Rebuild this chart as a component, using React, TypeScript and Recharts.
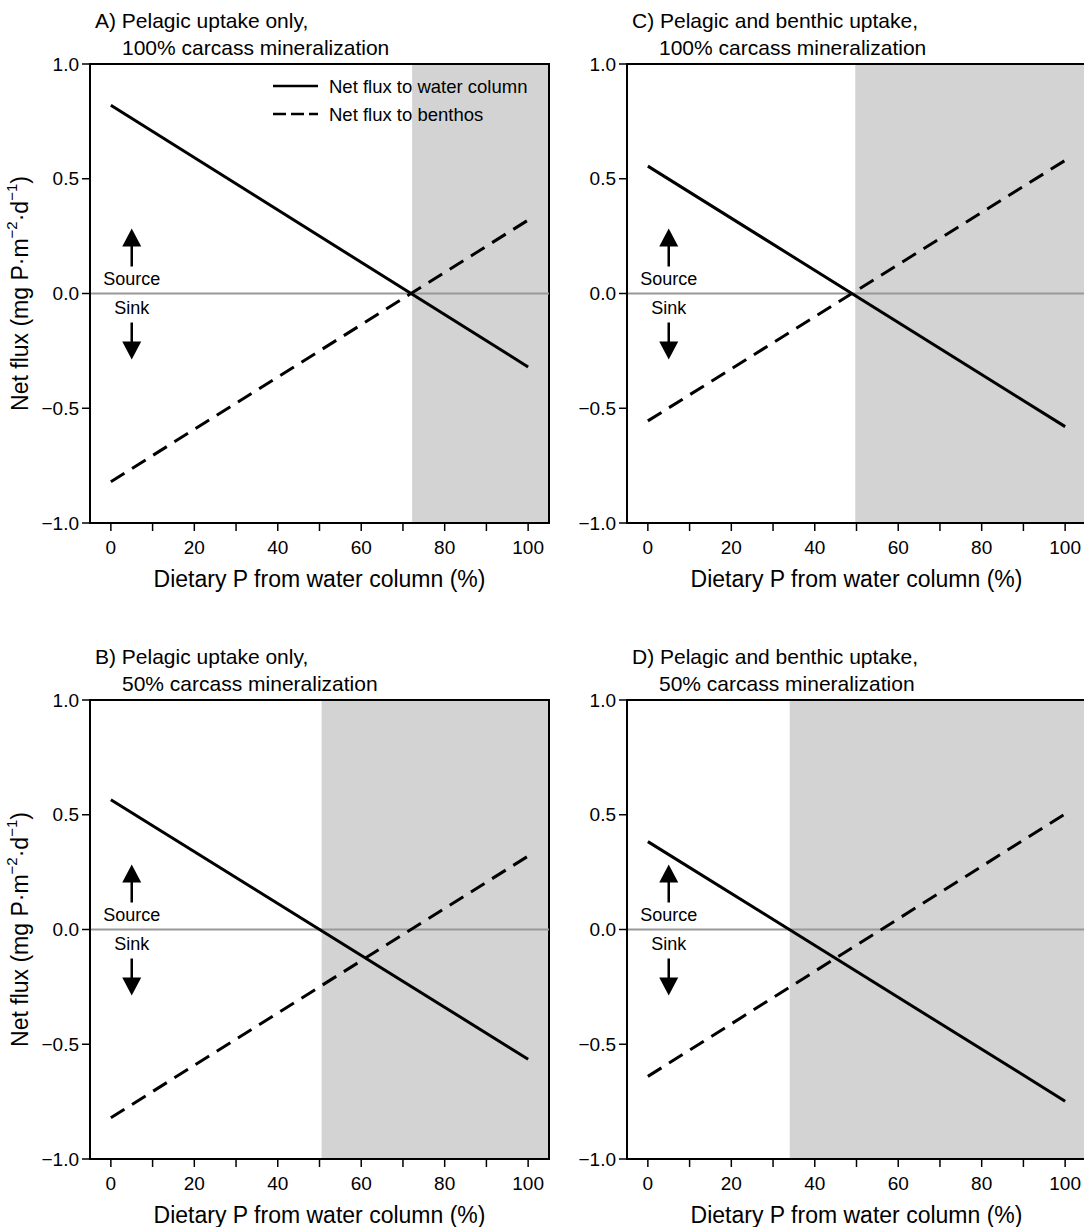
import React from 'react';
import { LineChart, Line, XAxis, YAxis, ReferenceArea, ReferenceLine, ReferenceDot, Legend } from 'recharts';

// ---- data ----
const dietaryPct = [0, 100];

const waterA = [0.82, -0.32];
const benthosA = [-0.82, 0.32];
const shadeA = 72.2;

const waterB = [0.565, -0.565];
const benthosB = [-0.82, 0.32];
const shadeB = 50.5;

const waterC = [0.555, -0.58];
const benthosC = [-0.555, 0.58];
const shadeC = 49.7;

const waterD = [0.383, -0.748];
const benthosD = [-0.64, 0.504];
const shadeD = 34;

const xTicks = [0, 10, 20, 30, 40, 50, 60, 70, 80, 90, 100];
const yTicks = [-1, -0.5, 0, 0.5, 1];

const titleA = ['A) Pelagic uptake only,', '100% carcass mineralization'];
const titleB = ['B) Pelagic uptake only,', '50% carcass mineralization'];
const titleC = ['C) Pelagic and benthic uptake,', '100% carcass mineralization'];
const titleD = ['D) Pelagic and benthic uptake,', '50% carcass mineralization'];

const seriesNames = ['Net flux to water column', 'Net flux to benthos'];
const xTitle = 'Dietary P from water column (%)';

const FONT = '"Liberation Sans", Arial, Helvetica, sans-serif';
const DASH = '16 9';

const fmtY = (v: number) => (v < 0 ? '\u2212' + Math.abs(v).toFixed(1) : v.toFixed(1));
const fmtX = (v: number) => (v % 20 === 0 ? String(v) : '');

const renderXTitle = (props: any) => {
  const vb = props.viewBox || {};
  const cx = vb.x + vb.width / 2;
  return (
    <text x={cx} y={vb.y + 64} textAnchor="middle" fontSize={23} fill="#000">
      {xTitle}
    </text>
  );
};

const renderYTitle = (props: any) => {
  const vb = props.viewBox || {};
  const cx = 20;
  const cy = vb.y + vb.height / 2;
  return (
    <text
      x={cx}
      y={cy}
      textAnchor="middle"
      dominantBaseline="central"
      transform={`rotate(-90, ${cx}, ${cy})`}
      fontSize={23}
      fill="#000"
    >
      <tspan>Net flux (mg P·m</tspan>
      <tspan fontSize={15} dy={-9}>{'\u22122'}</tspan>
      <tspan dy={9}>·d</tspan>
      <tspan fontSize={15} dy={-9}>{'\u22121'}</tspan>
      <tspan dy={9}>)</tspan>
    </text>
  );
};

const SourceSink = (p: any) => {
  const { cx, cy } = p;
  return (
    <g>
      <line x1={cx} y1={cy - 27} x2={cx} y2={cy - 48} stroke="#000" strokeWidth={2.5} />
      <polygon points={`${cx - 9.5},${cy - 47} ${cx + 9.5},${cy - 47} ${cx},${cy - 65}`} fill="#000" />
      <text x={cx} y={cy - 15} textAnchor="middle" dominantBaseline="central" fontSize={18} fill="#000">
        Source
      </text>
      <text x={cx} y={cy + 14} textAnchor="middle" dominantBaseline="central" fontSize={18} fill="#000">
        Sink
      </text>
      <line x1={cx} y1={cy + 29} x2={cx} y2={cy + 49} stroke="#000" strokeWidth={2.5} />
      <polygon points={`${cx - 9.5},${cy + 48} ${cx + 9.5},${cy + 48} ${cx},${cy + 66}`} fill="#000" />
    </g>
  );
};

const renderLegend = () => (
  <svg width={280} height={60} style={{ overflow: 'visible' }}>
    <line x1={8} y1={16} x2={53} y2={16} stroke="#000" strokeWidth={2.5} />
    <text x={64} y={16} dominantBaseline="central" fontSize={18.5} fill="#000" fontFamily={FONT}>
      {seriesNames[0]}
    </text>
    <line x1={8} y1={44} x2={53} y2={44} stroke="#000" strokeWidth={2.5} strokeDasharray="13 5" />
    <text x={64} y={44} dominantBaseline="central" fontSize={18.5} fill="#000" fontFamily={FONT}>
      {seriesNames[1]}
    </text>
  </svg>
);

type PanelProps = {
  left: number;
  top: number;
  water: number[];
  benthos: number[];
  shade: number;
  title: string[];
  yTitle: boolean;
  legend: boolean;
};

function Panel({ left, top, water, benthos, shade, title, yTitle, legend }: PanelProps) {
  const data = dietaryPct.map((x, i) => ({ x, water: water[i], benthos: benthos[i] }));
  return (
    <div style={{ position: 'absolute', left, top, width: 560, height: 600 }}>
      <div
        style={{
          position: 'absolute',
          left: 95,
          top: 7,
          fontSize: 21,
          lineHeight: '27px',
          whiteSpace: 'nowrap',
          color: '#000',
          zIndex: 2,
        }}
      >
        <div>{title[0]}</div>
        <div style={{ paddingLeft: 27 }}>{title[1]}</div>
      </div>
      <LineChart width={560} height={600} data={data} margin={{ top: 64, right: 11, bottom: 7, left: 40 }}>
        <XAxis
          dataKey="x"
          type="number"
          domain={[-5, 105]}
          ticks={xTicks}
          tickFormatter={fmtX}
          allowDataOverflow
          height={70}
          interval={0}
          tick={{ fill: '#000', fontSize: 19 }}
          tickLine={{ stroke: '#000', strokeWidth: 1.5 }}
          tickSize={8}
          tickMargin={10}
          axisLine={{ stroke: '#000', strokeWidth: 2 }}
          label={renderXTitle}
        />
        <YAxis
          type="number"
          domain={[-1, 1]}
          ticks={yTicks}
          tickFormatter={fmtY}
          allowDataOverflow
          width={50}
          interval={0}
          tick={{ fill: '#000', fontSize: 19 }}
          tickLine={{ stroke: '#000', strokeWidth: 1.5 }}
          tickSize={8}
          tickMargin={3}
          axisLine={{ stroke: '#000', strokeWidth: 2 }}
          label={yTitle ? renderYTitle : undefined}
        />
        <ReferenceArea x1={shade} x2={105} y1={-1} y2={1} fill="#d3d3d3" fillOpacity={1} stroke="none" />
        <ReferenceLine y={0} stroke="#999999" strokeWidth={2} />
        <Line
          dataKey="water"
          name={seriesNames[0]}
          stroke="#000"
          strokeWidth={3}
          dot={false}
          activeDot={false}
          isAnimationActive={false}
        />
        <Line
          dataKey="benthos"
          name={seriesNames[1]}
          stroke="#000"
          strokeWidth={3}
          strokeDasharray={DASH}
          dot={false}
          activeDot={false}
          isAnimationActive={false}
        />
        <ReferenceArea x1={-5} x2={105} y1={-1} y2={1} fill="none" stroke="#000" strokeWidth={2} />
        <ReferenceDot x={5} y={0} r={1} shape={SourceSink} />
        {legend && (
          <Legend
            layout="vertical"
            align="center"
            verticalAlign="middle"
            content={renderLegend}
            wrapperStyle={{ left: 265, top: 70, width: 280, height: 60 }}
          />
        )}
      </LineChart>
    </div>
  );
}

export default function App() {
  return (
    <div
      style={{
        position: 'absolute',
        left: 0,
        top: 0,
        width: 1084,
        height: 1227,
        overflow: 'hidden',
        background: '#fff',
        fontFamily: FONT,
      }}
    >
      <Panel left={0} top={0} water={waterA} benthos={benthosA} shade={shadeA} title={titleA} yTitle legend />
      <Panel left={537} top={0} water={waterC} benthos={benthosC} shade={shadeC} title={titleC} yTitle={false} legend={false} />
      <Panel left={0} top={636} water={waterB} benthos={benthosB} shade={shadeB} title={titleB} yTitle legend={false} />
      <Panel left={537} top={636} water={waterD} benthos={benthosD} shade={shadeD} title={titleD} yTitle={false} legend={false} />
    </div>
  );
}
